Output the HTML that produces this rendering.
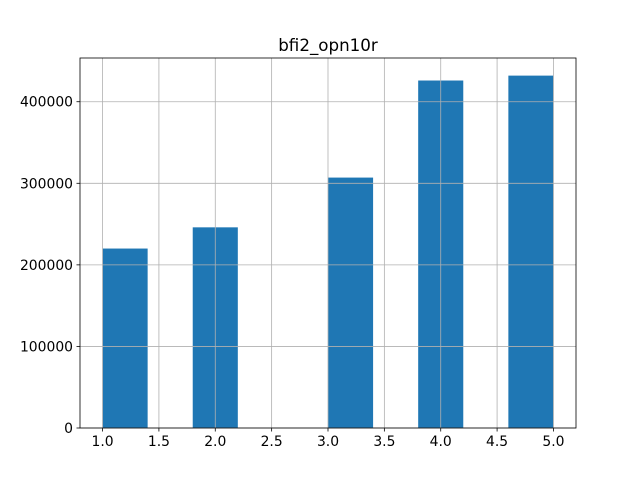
<!DOCTYPE html>
<html><head><meta charset="utf-8"><style>body{margin:0;background:#fff}svg{font-family:"DejaVu Sans","Liberation Sans",sans-serif}</style></head>
<body>
<svg id="c" width="640" height="480"></svg>
<script>
const binEdges=[1.0,1.4,1.8,2.2,2.6,3.0,3.4,3.8,4.2,4.6,5.0];
const counts=[220000,0,246000,0,0,307000,0,426000,0,432000];
const xTicks=[1.0,1.5,2.0,2.5,3.0,3.5,4.0,4.5,5.0];
const yTicks=[0,100000,200000,300000,400000];
const L=80,R=576,T=58,B=428;
const xmin=0.8,xmax=5.2,ymax=Math.max(...counts)*1.05;
const X=v=>L+(v-xmin)/(xmax-xmin)*(R-L);
const Y=v=>B-v/ymax*(B-T);
const s=document.getElementById('c');const NS='http://www.w3.org/2000/svg';
function mk(t,a,p){const e=document.createElementNS(NS,t);for(const k in a)e.setAttribute(k,a[k]);(p||s).appendChild(e);return e;}
counts.forEach((c,i)=>{if(!c)return;const r=mk('rect',{x:X(binEdges[i]),y:Y(c),width:X(binEdges[i+1])-X(binEdges[i]),height:B-Y(c),fill:'#1f77b4'});

});
xTicks.forEach(v=>{const x=X(v);
const g=mk('line',{x1:x,x2:x,y1:T,y2:B,stroke:'#b0b0b0','stroke-width':0.8});


mk('line',{x1:x,x2:x,y1:B,y2:B+3.5,stroke:'#000','stroke-width':0.8});
const t=mk('text',{x:x,y:B+18,'text-anchor':'middle','font-size':13.9});t.textContent=v.toFixed(1);

});
yTicks.forEach(v=>{const y=Y(v);
const g=mk('line',{x1:L,x2:R,y1:y,y2:y,stroke:'#b0b0b0','stroke-width':0.8});


mk('line',{x1:L-3.5,x2:L,y1:y,y2:y,stroke:'#000','stroke-width':0.8});
const t=mk('text',{x:L-7,y:y+5,'text-anchor':'end','font-size':13.9});t.textContent=v;

});
const f=mk('rect',{x:L,y:T,width:R-L,height:B-T,fill:'none',stroke:'#000','stroke-width':0.8});


const ti=mk('text',{x:(L+R)/2,y:T-7,'text-anchor':'middle','font-size':16.7});ti.textContent='bfi2_opn10r';


</script>
</body></html>
